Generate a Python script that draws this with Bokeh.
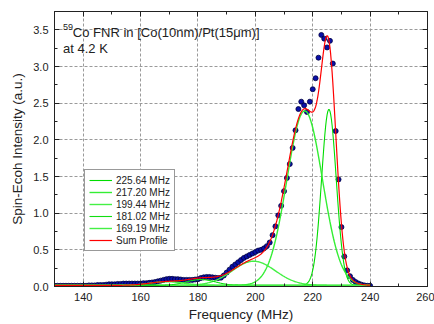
import numpy as np
from bokeh.plotting import figure
from bokeh.models import (Range1d, FixedTicker, PrintfTickFormatter, LinearAxis,
                          Legend, LegendItem, Label, Title, ColumnDataSource)
from bokeh.embed import file_html
from bokeh.resources import INLINE

# ---- data ----
freq_mhz = list(range(130, 241))
intensity = [
    0.01, 0.01, 0.01, 0.01, 0.01, 0.01, 0.01, 0.01, 0.01, 0.01,           # 130-139
    0.01, 0.01, 0.015, 0.015, 0.015, 0.02, 0.02, 0.02, 0.025, 0.03,      # 140-149
    0.03, 0.03, 0.035, 0.035, 0.04, 0.04, 0.04, 0.04, 0.04, 0.04,        # 150-159
    0.04, 0.045, 0.045, 0.05, 0.055, 0.06, 0.07, 0.08, 0.09, 0.10,       # 160-169
    0.105, 0.105, 0.10, 0.10, 0.095, 0.09, 0.09, 0.09, 0.09, 0.095,      # 170-179
    0.10, 0.115, 0.125, 0.13, 0.13, 0.125, 0.12, 0.115, 0.12, 0.15,      # 180-189
    0.19, 0.23, 0.27, 0.30, 0.33, 0.36, 0.39, 0.41, 0.43, 0.45,          # 190-199
    0.47, 0.49, 0.50, 0.52, 0.55, 0.60, 0.70, 0.82, 0.97, 1.10,          # 200-209
    1.30, 1.48, 1.67, 1.89, 2.13, 2.42, 2.52, 2.47, 2.38, 2.52,          # 210-219
    2.69, 2.84, 3.12, 3.43, 3.38, 3.26, 3.35, 3.04, 2.12, 1.46,          # 220-229
    0.81, 0.41, 0.22, 0.14, 0.09, 0.06, 0.04, 0.025, 0.015, 0.01,        # 230-239
    0.01,                                                                # 240
]

# Gaussian fit components (centres from the legend)
peak_centers = [225.64, 217.20, 199.44, 181.02, 169.19]
peak_amps = [2.40, 2.38, 0.33, 0.08, 0.05]
peak_sigmas = [2.55, 6.2, 7.5, 5.0, 6.0]
peak_labels = ["225.64 MHz", "217.20 MHz", "199.44 MHz", "181.02 MHz", "169.19 MHz"]
sum_label = "Sum Profile"
fit_baseline = 0.015
fit_range = [130, 240]

x_title = "Frequency (MHz)"
y_title = "Spin-Ecoh Intensity (a.u.)"
x_major = [140, 160, 180, 200, 220, 240, 260]
x_minor = [130, 150, 170, 190, 210, 230, 250]
y_major = [0.0, 0.5, 1.0, 1.5, 2.0, 2.5, 3.0, 3.5]
y_minor = [0.25, 0.75, 1.25, 1.75, 2.25, 2.75, 3.25]

FONT = "Liberation Sans"

p = figure(width=434, height=324, output_backend="svg", toolbar_location=None,
           x_range=Range1d(130, 260), y_range=Range1d(0, 3.75),
           min_border_left=54, min_border_right=7, min_border_top=11,
           min_border_bottom=38)
p.background_fill_color = "white"
p.border_fill_color = "white"
p.outline_line_color = "#222222"
p.outline_line_width = 1

xt = FixedTicker(ticks=x_major, minor_ticks=x_minor)
yt = FixedTicker(ticks=y_major, minor_ticks=y_minor)
p.xaxis.ticker = xt
p.yaxis.ticker = yt
p.yaxis.formatter = PrintfTickFormatter(format="%.1f")

for ax in (p.xaxis[0], p.yaxis[0]):
    ax.major_tick_in = 5
    ax.major_tick_out = 0
    ax.minor_tick_in = 3
    ax.minor_tick_out = 0
    ax.axis_line_color = "#222222"
    ax.major_tick_line_color = "#222222"
    ax.minor_tick_line_color = "#222222"
    ax.major_label_text_font = FONT
    ax.major_label_text_font_size = "11px"
    ax.major_label_text_color = "#222222"
    ax.axis_label_text_font = FONT
    ax.axis_label_text_font_size = "13.5px"
    ax.axis_label_text_font_style = "normal"
    ax.axis_label_text_color = "#222222"

p.yaxis.axis_label = y_title
p.xaxis.major_label_standoff = 6
p.yaxis.major_label_standoff = 6
p.yaxis.axis_label_standoff = 5

# x-axis title under the tick labels
p.add_layout(Title(text=x_title, align="center", text_font=FONT,
                   text_font_size="13.5px", text_font_style="normal",
                   text_color="#222222", standoff=3, offset=0,
                   text_line_height=1.0), "below")

for loc, tk in (("above", xt), ("right", yt)):
    ax = LinearAxis(ticker=tk, major_tick_in=5, major_tick_out=0,
                    minor_tick_in=3, minor_tick_out=0,
                    axis_line_color="#222222", major_tick_line_color="#222222",
                    minor_tick_line_color="#222222",
                    major_label_text_color=None,
                    major_label_text_font_size="1px", major_label_standoff=0)
    p.add_layout(ax, loc)

p.xgrid.ticker = xt
p.ygrid.ticker = yt
for g in (p.xgrid[0], p.ygrid[0]):
    g.grid_line_color = "#9a9a9a"
    g.grid_line_dash = "3 2"
    g.grid_line_width = 1

# data points
src = ColumnDataSource(dict(x=freq_mhz, y=intensity))
p.scatter("x", "y", source=src, size=5, fill_color="#0a10a8",
          line_color="#000040", line_width=0.8)

# fit curves
xf = np.linspace(fit_range[0], fit_range[1], 441)
comp_colors = ["#00dd00", "#33ee33", "#44f044", "#11dd11", "#44f044"]
comp_widths = [1.1, 1.4, 1.4, 1.1, 1.4]
total = np.zeros_like(xf)
items = []
for c, a, s, lab, col, w in zip(peak_centers, peak_amps, peak_sigmas,
                                peak_labels, comp_colors, comp_widths):
    g = a * np.exp(-(xf - c) ** 2 / (2 * s * s))
    total += g
    r = p.line(xf, g + fit_baseline, line_color=col, line_width=w)
    items.append(LegendItem(label=lab, renderers=[r]))
rs = p.line(xf, total + fit_baseline, line_color="#ff0000", line_width=1.2)
items.append(LegendItem(label=sum_label, renderers=[rs]))

legend = Legend(items=items, location=(30, 35), orientation="vertical",
                border_line_color="#333333", border_line_width=1,
                background_fill_color="white", background_fill_alpha=1,
                label_text_font=FONT, label_text_font_size="10px",
                label_text_color="#222222",
                glyph_width=23, glyph_height=12, label_height=12,
                spacing=0, padding=4, margin=0, label_standoff=4)
p.add_layout(legend, "center")

# annotation text
p.add_layout(Label(x=132.96, y=3.539, text="59", text_font=FONT,
                   text_font_size="9px", text_color="#222222",
                   text_baseline="alphabetic"))
p.add_layout(Label(x=136.4, y=3.464, text="Co FNR in [Co(10nm)/Pt(15\u03bcm)]",
                   text_font=FONT, text_font_size="13px", text_color="#222222",
                   text_baseline="alphabetic"))
p.add_layout(Label(x=132.96, y=3.252, text="at 4.2 K", text_font=FONT,
                   text_font_size="13px", text_color="#222222",
                   text_baseline="alphabetic"))

open("out.html", "w").write(file_html(p, INLINE))
